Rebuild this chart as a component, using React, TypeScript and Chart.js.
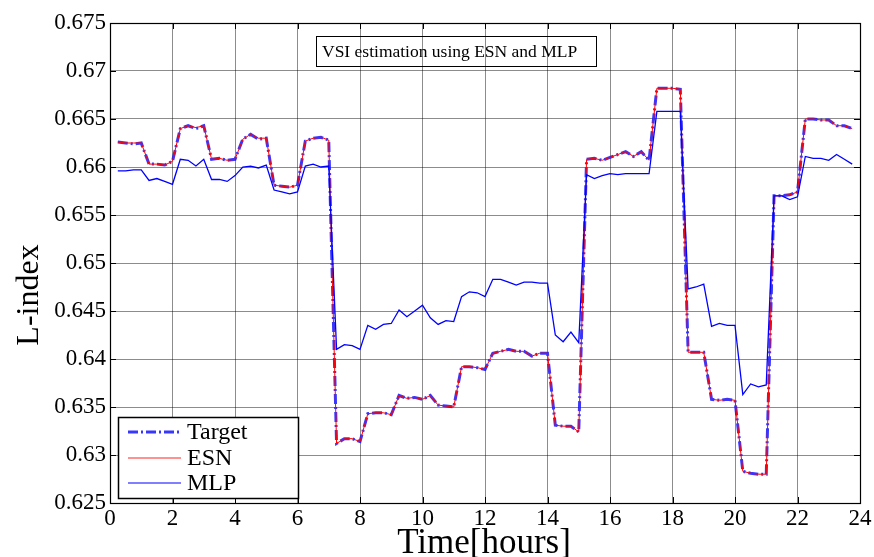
import { useEffect, useRef } from "react";
import { Chart, registerables } from "chart.js";

Chart.register(...registerables);

// Sample times (hours), one sample every 15 minutes
const TIME_H = [
  0.25, 0.5, 0.75, 1.0, 1.25, 1.5, 1.75, 2.0, 2.25, 2.5, 2.75, 3.0,
  3.25, 3.5, 3.75, 4.0, 4.25, 4.5, 4.75, 5.0, 5.25, 5.5, 5.75, 6.0,
  6.25, 6.5, 6.75, 7.0, 7.25, 7.5, 7.75, 8.0, 8.25, 8.5, 8.75, 9.0,
  9.25, 9.5, 9.75, 10.0, 10.25, 10.5, 10.75, 11.0, 11.25, 11.5, 11.75, 12.0,
  12.25, 12.5, 12.75, 13.0, 13.25, 13.5, 13.75, 14.0, 14.25, 14.5, 14.75, 15.0,
  15.25, 15.5, 15.75, 16.0, 16.25, 16.5, 16.75, 17.0, 17.25, 17.5, 17.75, 18.0,
  18.25, 18.5, 18.75, 19.0, 19.25, 19.5, 19.75, 20.0, 20.25, 20.5, 20.75, 21.0,
  21.25, 21.5, 21.75, 22.0, 22.25, 22.5, 22.75, 23.0, 23.25, 23.5, 23.75,
];

// Reference L-index
const TARGET = [
  0.6626, 0.6625, 0.6624, 0.6625, 0.6603, 0.6603, 0.6602, 0.6606,
  0.6640, 0.6643, 0.6640, 0.6643, 0.6608, 0.6609, 0.6607, 0.6608,
  0.6629, 0.6634, 0.6629, 0.6630, 0.6581, 0.6580, 0.6579, 0.6581,
  0.6627, 0.6630, 0.6631, 0.6628, 0.6312, 0.6317, 0.6317, 0.6314,
  0.6343, 0.6344, 0.6344, 0.6342, 0.6362, 0.6359, 0.6360, 0.6358,
  0.6362, 0.6352, 0.6351, 0.6350, 0.6392, 0.6392, 0.6391, 0.6389,
  0.6406, 0.6408, 0.6410, 0.6408, 0.6408, 0.6403, 0.6406, 0.6406,
  0.6331, 0.6330, 0.6330, 0.6324, 0.6608, 0.6609, 0.6607, 0.6610,
  0.6613, 0.6616, 0.6611, 0.6616, 0.6607, 0.6682, 0.6682, 0.6682,
  0.6681, 0.6407, 0.6407, 0.6407, 0.6358, 0.6357, 0.6358, 0.6357,
  0.6283, 0.6281, 0.6280, 0.6280, 0.6570, 0.6570, 0.6571, 0.6574,
  0.6650, 0.6650, 0.6649, 0.6649, 0.6643, 0.6643, 0.6640,
];

// Echo state network estimate
const ESN = [
  0.6626, 0.6625, 0.6625, 0.6625, 0.6603, 0.6603, 0.6602, 0.6606,
  0.6640, 0.6643, 0.6641, 0.6643, 0.6608, 0.6609, 0.6607, 0.6608,
  0.6629, 0.6634, 0.6630, 0.6630, 0.6581, 0.6580, 0.6579, 0.6581,
  0.6627, 0.6630, 0.6631, 0.6628, 0.6312, 0.6317, 0.6317, 0.6314,
  0.6343, 0.6344, 0.6344, 0.6342, 0.6362, 0.6359, 0.6360, 0.6358,
  0.6362, 0.6352, 0.6351, 0.6350, 0.6392, 0.6392, 0.6391, 0.6389,
  0.6406, 0.6408, 0.6410, 0.6408, 0.6408, 0.6403, 0.6406, 0.6406,
  0.6331, 0.6330, 0.6330, 0.6324, 0.6608, 0.6609, 0.6607, 0.6610,
  0.6613, 0.6616, 0.6611, 0.6616, 0.6607, 0.6682, 0.6682, 0.6682,
  0.6681, 0.6407, 0.6407, 0.6407, 0.6358, 0.6357, 0.6358, 0.6357,
  0.6283, 0.6281, 0.6280, 0.6280, 0.6570, 0.6570, 0.6571, 0.6574,
  0.6650, 0.6650, 0.6649, 0.6649, 0.6643, 0.6643, 0.6640,
];

// Multilayer perceptron estimate
const MLP = [
  0.6596, 0.6596, 0.6597, 0.6597, 0.6586, 0.6588, 0.6585, 0.6582,
  0.6608, 0.6607, 0.6601, 0.6608, 0.6587, 0.6587, 0.6585, 0.6591,
  0.6600, 0.6601, 0.6599, 0.6602, 0.6576, 0.6574, 0.6572, 0.6574,
  0.6601, 0.6603, 0.6600, 0.6601, 0.6410, 0.6415, 0.6414, 0.6410,
  0.6435, 0.6431, 0.6436, 0.6437, 0.6451, 0.6444, 0.6450, 0.6456,
  0.6443, 0.6436, 0.6440, 0.6439, 0.6465, 0.6470, 0.6469, 0.6465,
  0.6483, 0.6483, 0.6480, 0.6477, 0.6480, 0.6480, 0.6479, 0.6479,
  0.6425, 0.6418, 0.6428, 0.6417, 0.6592, 0.6588, 0.6591, 0.6593,
  0.6592, 0.6593, 0.6593, 0.6593, 0.6593, 0.6658, 0.6658, 0.6658,
  0.6658, 0.6473, 0.6475, 0.6478, 0.6434, 0.6437, 0.6435, 0.6435,
  0.6363, 0.6374, 0.6371, 0.6373, 0.6570, 0.6570, 0.6566, 0.6569,
  0.6611, 0.6609, 0.6609, 0.6607, 0.6613, 0.6608, 0.6603,
];

const X_TICKS = [0, 2, 4, 6, 8, 10, 12, 14, 16, 18, 20, 22, 24];
const Y_TICKS = [
  0.625, 0.63, 0.635, 0.64, 0.645, 0.65, 0.655, 0.66, 0.665, 0.67, 0.675,
];

const SERIES_NAMES = ["Target", "ESN", "MLP"];
const CHART_TITLE = "VSI estimation using ESN and MLP";
const X_TITLE = "Time[hours]";
const Y_TITLE = "L-index";

const SERIF = "'Liberation Serif', 'Times New Roman', serif";
const TARGET_COLOR = "rgba(20, 20, 255, 0.85)";
const ESN_COLOR = "rgb(255, 0, 0)";
const MLP_COLOR = "rgb(0, 0, 255)";
const TARGET_DASH = [10, 3, 2, 3];

const W = 874;
const H = 557;

Chart.defaults.font.family = SERIF;

const fmt = (v: number) => String(parseFloat(v.toFixed(3)));

// Box, inner ticks, title box, legend and axis titles
const decorations = {
  id: "decorations",
  afterDraw(chart: any) {
    const { ctx, chartArea } = chart;
    const { left, right, top, bottom } = chartArea;
    const xs = chart.scales.x;
    const ys = chart.scales.y;
    ctx.save();

    // inner tick marks
    ctx.strokeStyle = "#000";
    ctx.lineWidth = 1;
    ctx.beginPath();
    X_TICKS.forEach((t) => {
      const px = Math.round(xs.getPixelForValue(t)) + 0.5;
      ctx.moveTo(px, bottom);
      ctx.lineTo(px, bottom - 6);
      ctx.moveTo(px, top);
      ctx.lineTo(px, top + 6);
    });
    Y_TICKS.forEach((t) => {
      const py = Math.round(ys.getPixelForValue(t)) + 0.5;
      ctx.moveTo(left, py);
      ctx.lineTo(left + 6, py);
      ctx.moveTo(right, py);
      ctx.lineTo(right - 6, py);
    });
    ctx.stroke();

    // axes box
    ctx.strokeStyle = "#000";
    ctx.lineWidth = 1.2;
    ctx.strokeRect(left + 0.5, top + 0.5, right - left, bottom - top);

    // title box (transparent)
    ctx.lineWidth = 1;
    ctx.strokeRect(316.5, 36.5, 280, 30);
    ctx.fillStyle = "#000";
    ctx.font = `17.5px ${SERIF}`;
    ctx.textAlign = "left";
    ctx.textBaseline = "alphabetic";
    ctx.fillText(CHART_TITLE, 322, 57);

    // legend
    const lx = 118, ly = 417, lw = 180, lh = 81;
    ctx.fillStyle = "#fff";
    ctx.fillRect(lx, ly, lw, lh);
    ctx.strokeStyle = "#000";
    ctx.lineWidth = 1.5;
    ctx.strokeRect(lx + 0.5, ly + 0.5, lw, lh);
    const rows = [432, 458, 483];
    const styles = [
      { c: TARGET_COLOR, w: 3, d: TARGET_DASH },
      { c: "rgba(255, 60, 60, 0.75)", w: 1.5, d: [] as number[] },
      { c: MLP_COLOR, w: 1.2, d: [] as number[] },
    ];
    rows.forEach((ry, i) => {
      const s = styles[i];
      ctx.strokeStyle = s.c;
      ctx.lineWidth = s.w;
      ctx.setLineDash(s.d);
      ctx.beginPath();
      ctx.moveTo(128, ry);
      ctx.lineTo(181, ry);
      ctx.stroke();
      ctx.setLineDash([]);
      ctx.fillStyle = "#000";
      ctx.font = `24px ${SERIF}`;
      ctx.textBaseline = "middle";
      ctx.fillText(SERIES_NAMES[i], 187, ry + 1);
    });

    // axis titles
    ctx.fillStyle = "#000";
    ctx.font = `35px ${SERIF}`;
    ctx.textAlign = "center";
    ctx.textBaseline = "alphabetic";
    ctx.fillText(X_TITLE, (left + right) / 2 - 1, 553);

    ctx.save();
    ctx.translate(30, 295);
    ctx.rotate(-Math.PI / 2);
    ctx.font = `32px ${SERIF}`;
    ctx.textBaseline = "middle";
    ctx.fillText(Y_TITLE, 0, 0);
    ctx.restore();

    ctx.restore();
  },
};

export default function App() {
  const canvasRef = useRef<HTMLCanvasElement | null>(null);

  useEffect(() => {
    const canvas = canvasRef.current;
    if (!canvas) return;
    const pts = (ys: number[]) => TIME_H.map((t, i) => ({ x: t, y: ys[i] }));

    const chart = new Chart(canvas, {
      type: "line",
      data: {
        datasets: [
          {
            label: SERIES_NAMES[2],
            data: pts(MLP),
            borderColor: MLP_COLOR,
            borderWidth: 1.3,
            pointRadius: 0,
            tension: 0,
            order: 0,
          },
          {
            label: SERIES_NAMES[1],
            data: pts(ESN),
            borderColor: ESN_COLOR,
            borderWidth: 1,
            pointRadius: 0,
            tension: 0,
            order: 1,
          },
          {
            label: SERIES_NAMES[0],
            data: pts(TARGET),
            borderColor: TARGET_COLOR,
            borderWidth: 3,
            borderDash: TARGET_DASH,
            pointRadius: 0,
            tension: 0,
            order: 2,
          },
        ],
      },
      options: {
        responsive: false,
        animation: false,
        devicePixelRatio: 1,
        layout: { padding: { left: 0, right: 14, top: 23, bottom: 0 } },
        plugins: {
          legend: { display: false },
          tooltip: { enabled: false },
          title: { display: false },
        },
        scales: {
          x: {
            type: "linear",
            min: 0,
            max: 24,
            afterFit: (s: any) => {
              s.height = 54;
            },
            afterBuildTicks: (s: any) => {
              s.ticks = X_TICKS.map((v) => ({ value: v }));
            },
            ticks: {
              color: "#000",
              font: { family: SERIF, size: 23 },
              padding: 2,
              maxRotation: 0,
              autoSkip: false,
              callback: (v: any) => String(v),
            },
            grid: {
              color: "rgba(0,0,0,0.45)",
              lineWidth: 1,
              drawTicks: false,
            },
            border: { display: true, color: "#000", width: 1 },
          },
          y: {
            type: "linear",
            min: 0.625,
            max: 0.675,
            afterFit: (s: any) => {
              s.width = 110;
            },
            afterBuildTicks: (s: any) => {
              s.ticks = Y_TICKS.map((v) => ({ value: v }));
            },
            ticks: {
              color: "#000",
              font: { family: SERIF, size: 23 },
              padding: 4,
              autoSkip: false,
              callback: (v: any) => fmt(Number(v)),
            },
            grid: {
              color: "rgba(0,0,0,0.45)",
              lineWidth: 1,
              drawTicks: false,
            },
            border: { display: true, color: "#000", width: 1 },
          },
        },
      },
      plugins: [decorations],
    });

    return () => chart.destroy();
  }, []);

  return (
    <div
      style={{
        position: "fixed",
        left: 0,
        top: 0,
        width: W,
        height: H,
        background: "#fff",
      }}
    >
      <canvas ref={canvasRef} width={W} height={H} />
    </div>
  );
}
